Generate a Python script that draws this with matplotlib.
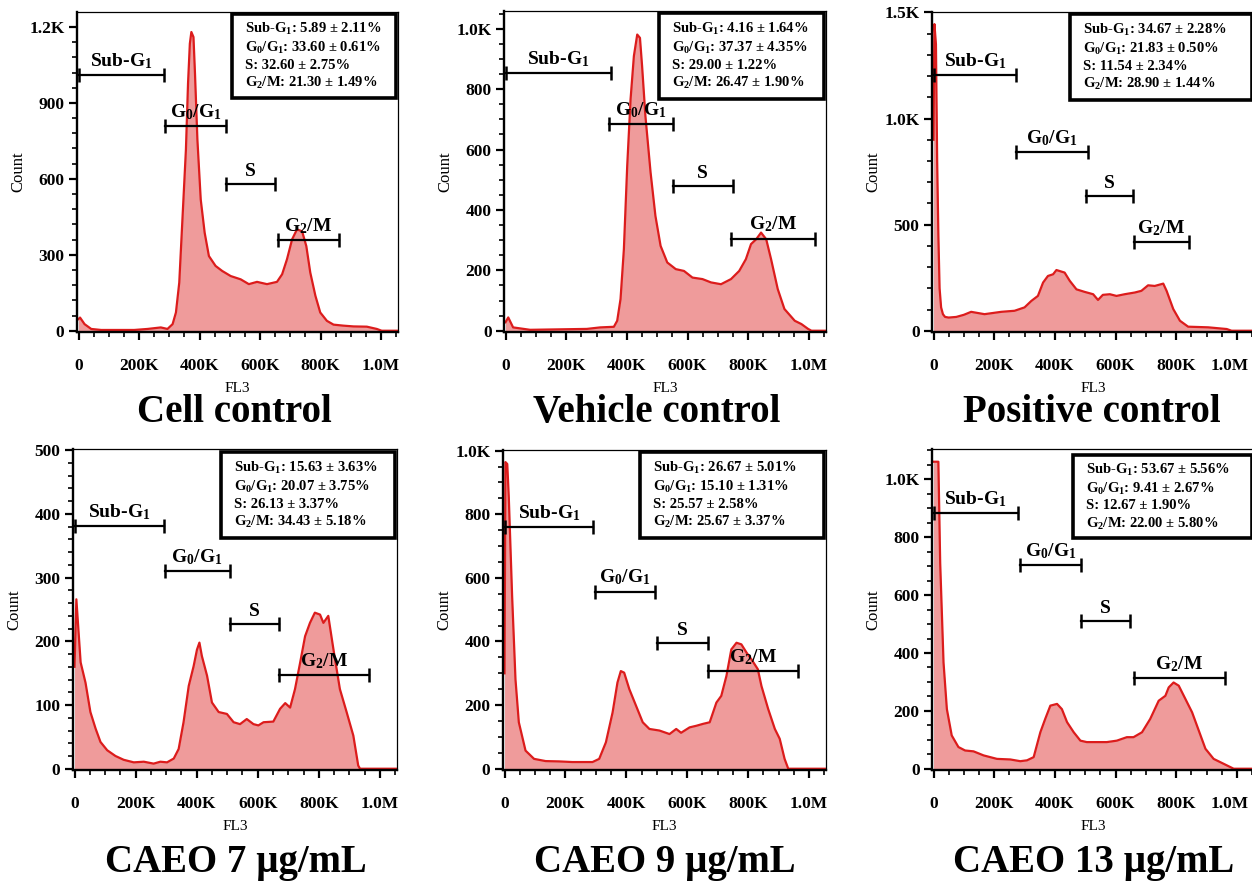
import matplotlib
matplotlib.use("Agg")
import matplotlib.pyplot as plt
from matplotlib.patches import Rectangle
from matplotlib.ticker import MultipleLocator, FuncFormatter
from matplotlib.transforms import ScaledTranslation

plt.rcParams['font.family'] = ['Liberation Serif', 'DejaVu Serif']
plt.rcParams['font.weight'] = 'bold'
plt.rcParams['mathtext.default'] = 'regular'

# ---- data (FL3 in thousands, counts) ----
titles = ['Cell control', 'Vehicle control', 'Positive control',
          'CAEO 7 µg/mL', 'CAEO 9 µg/mL', 'CAEO 13 µg/mL']

fl3_cell = [0, 5, 20, 42, 75, 184, 228, 272, 294, 311, 322, 333, 344, 355, 362, 368, 373, 380, 385, 393,
            404, 417, 431, 453, 475, 503, 536, 563, 590, 623, 656, 673, 689, 706, 722, 739, 753, 766, 783, 799,
            821, 843, 876, 909, 953, 986, 1002, 1060]
cnt_cell = [46, 52, 26, 7, 3, 3, 7, 13, 7, 26, 72, 190, 452, 715, 977, 1134, 1180, 1160, 1016, 754,
            518, 387, 295, 256, 236, 216, 203, 184, 193, 184, 193, 223, 282, 361, 400, 393, 334, 230, 138, 72,
            39, 24, 20, 17, 16, 7, 0, 0]

fl3_veh = [0, 9, 25, 81, 268, 312, 357, 368, 379, 390, 401, 412, 423, 434, 443, 450, 461, 478, 494, 511,
           533, 561, 588, 616, 649, 677, 710, 743, 770, 792, 809, 826, 842, 859, 875, 897, 919, 953, 975, 997,
           1008, 1060]
cnt_veh = [28, 44, 11, 3, 6, 11, 13, 33, 105, 270, 546, 766, 910, 981, 970, 877, 711, 524, 380, 281,
           226, 204, 198, 176, 171, 160, 154, 171, 198, 237, 287, 303, 325, 303, 237, 138, 72, 33, 22, 6,
           0, 0]

fl3_pos = [0, 3, 8, 12, 16, 20, 25, 31, 38, 50, 75, 100, 124, 168, 223, 267, 300, 322, 344, 361,
           377, 394, 405, 432, 449, 471, 498, 526, 542, 558, 581, 603, 630, 663, 685, 707, 729, 757, 768, 790,
           812, 839, 905, 966, 982, 1060]
cnt_pos = [900, 1445, 1350, 800, 450, 200, 110, 78, 65, 62, 65, 75, 89, 78, 89, 94, 110, 140, 164, 227,
           258, 266, 286, 274, 235, 195, 183, 172, 145, 169, 172, 164, 172, 180, 188, 214, 211, 222, 188, 102,
           47, 19, 16, 8, 0, 0]

fl3_c7 = [0, 6, 20, 36, 52, 69, 85, 107, 134, 161, 194, 227, 259, 281, 303, 325, 341, 357, 374, 390,
          401, 409, 417, 434, 450, 472, 499, 521, 542, 564, 586, 602, 619, 651, 673, 690, 706, 722, 739, 755,
          771, 787, 804, 815, 831, 848, 869, 891, 913, 929, 935, 1060]
cnt_c7 = [160, 266, 167, 135, 89, 63, 42, 29, 20, 14, 10, 11, 8, 11, 10, 16, 31, 73, 130, 161,
          187, 198, 177, 146, 104, 89, 86, 73, 70, 78, 70, 68, 73, 74, 94, 103, 96, 125, 167, 208,
          229, 245, 242, 229, 240, 187, 125, 89, 52, 5, 0, 0]

fl3_c9 = [0, 3, 9, 14, 25, 36, 47, 69, 97, 135, 179, 223, 267, 289, 311, 333, 355, 371, 382, 393,
          410, 432, 454, 476, 509, 542, 564, 580, 608, 630, 652, 674, 696, 712, 729, 745, 762, 778, 795, 811,
          832, 844, 866, 888, 904, 920, 932, 1060]
cnt_c9 = [300, 964, 958, 854, 542, 281, 146, 57, 31, 24, 23, 21, 21, 21, 31, 83, 177, 271, 307, 302,
          250, 198, 146, 125, 120, 109, 125, 113, 130, 135, 141, 146, 208, 229, 292, 375, 396, 391, 365, 344,
          313, 260, 188, 125, 94, 31, 0, 0]

fl3_c13 = [0, 16, 22, 33, 44, 60, 82, 104, 132, 165, 209, 253, 286, 308, 330, 352, 368, 385, 407, 423,
           440, 462, 484, 505, 538, 571, 604, 637, 659, 687, 714, 742, 764, 775, 791, 808, 830, 852, 874, 896,
           923, 956, 989, 1060]
cnt_c13 = [1061, 1061, 711, 367, 206, 115, 75, 63, 60, 46, 34, 32, 26, 29, 40, 126, 172, 218, 224, 206,
           161, 126, 97, 92, 92, 92, 97, 109, 109, 126, 172, 235, 252, 281, 298, 287, 241, 195, 132, 69,
           34, 17, 0, 0]

fl3_all = [fl3_cell, fl3_veh, fl3_pos, fl3_c7, fl3_c9, fl3_c13]
cnt_all = [cnt_cell, cnt_veh, cnt_pos, cnt_c7, cnt_c9, cnt_c13]

# gates: (start K, end K, count level) for Sub-G1, G0/G1, S, G2/M
gate_names = ['Sub-G$_1$', 'G$_0$/G$_1$', 'S', 'G$_2$/M']
gates = [
    [(0, 282, 1010), (287, 486, 807), (486, 649, 580), (660, 860, 358)],
    [(0, 349, 852), (342, 552, 684), (552, 748, 480), (743, 1019, 305)],
    [(0, 273, 1203), (271, 510, 841), (504, 656, 633), (659, 843, 417)],
    [(0, 294, 381), (295, 508, 310), (510, 671, 227), (668, 965, 147)],
    [(0, 291, 759), (297, 495, 557), (501, 669, 396), (670, 963, 307)],
    [(0, 278, 883), (286, 486, 705), (486, 648, 510), (659, 959, 312)],
]

phase_means = [[5.89, 33.60, 32.60, 21.30], [4.16, 37.37, 29.00, 26.47], [34.67, 21.83, 11.54, 28.90],
               [15.63, 20.07, 26.13, 34.43], [26.67, 15.10, 25.57, 25.67], [53.67, 9.41, 12.67, 22.00]]
phase_sds = [[2.11, 0.61, 2.75, 1.49], [1.64, 4.35, 1.22, 1.90], [2.28, 0.50, 2.34, 1.44],
             [3.63, 3.75, 3.37, 5.18], [5.01, 1.31, 2.58, 3.37], [5.56, 2.67, 1.90, 5.80]]

ymax = [1259, 1059, 1502, 502, 1002, 1105]
ymajor = [300, 200, 500, 100, 200, 200]
yminor = [60, 50, 100, 20, 50, 50]
xticks = [0, 200e3, 400e3, 600e3, 800e3, 1e6]

# ---- layout (pixels: left, top, right, bottom) ----
W, H = 1252, 882
rects = [(77, 12, 398, 332), (504, 11, 826, 332), (932, 12, 1254, 332),
         (73, 449, 397, 770), (503, 450, 826, 770), (932, 449, 1254, 770)]
boxes = [(0.483, 0.731, 0.995), (0.481, 0.726, 0.995), (0.429, 0.725, 0.995),
         (0.457, 0.723, 0.99), (0.424, 0.725, 0.995), (0.438, 0.723, 0.98)]
title_x = [0.489, 0.475, 0.497, 0.503, 0.50, 0.503]

LINE = '#dc1c1c'
FILL = '#ef9b9b'


def fmt_x(v, pos):
    if abs(v) < 1:
        return '0'
    if v >= 1e6:
        return '%.1fM' % (v / 1e6)
    return '%dK' % round(v / 1e3)


def fmt_y(v, pos):
    if v >= 1000:
        return '%.1fK' % (v / 1000)
    return '%d' % round(v)


fig = plt.figure(figsize=(W / 100, H / 100), dpi=100)

for i in range(6):
    l, t, r, b = rects[i]
    axw, axh = r - l, b - t
    ax = fig.add_axes([l / W, 1 - b / H, axw / W, axh / H])

    x = [v * 1e3 for v in fl3_all[i]]
    y = cnt_all[i]
    ax.fill_between(x, y, 0, color=FILL, lw=0)
    ax.plot(x, y, color=LINE, lw=1.6)

    ax.set_xlim(-5e3, 1.056e6)
    ax.set_ylim(-0.004 * ymax[i], ymax[i])

    # gate bars
    for name, (g0, g1, gy) in zip(gate_names, gates[i]):
        ax.plot([g0 * 1e3, g1 * 1e3], [gy, gy], color='black', lw=1.6,
                marker='|', ms=10, mew=1.8, clip_on=False)
        ax.annotate(name, ((g0 + g1) / 2 * 1e3, gy), xytext=(0, 3), textcoords='offset points',
                    ha='center', va='bottom', fontsize=14)

    # info box
    bx0, by0, by1 = boxes[i]
    ax.add_patch(Rectangle((bx0, by0), 0.995 - bx0, by1 - by0, transform=ax.transAxes,
                           fill=False, ec='black', lw=2.6, zorder=5))
    lines = []
    for name, m, s in zip(gate_names, phase_means[i], phase_sds[i]):
        lines.append('%s: %.2f ± %.2f%%' % (name, m, s))
    ax.text(bx0 + 13 / axw, (by0 + by1) / 2, '\n'.join(lines), transform=ax.transAxes,
            ha='left', va='center', fontsize=10.5, linespacing=1.25, zorder=6)

    # axes styling
    for side in ['left', 'bottom']:
        ax.spines[side].set_linewidth(1.7)
    for side in ['top', 'right']:
        ax.spines[side].set_linewidth(0.9)
    ax.set_xticks(xticks)
    ax.xaxis.set_minor_locator(MultipleLocator(50e3))
    ax.yaxis.set_major_locator(MultipleLocator(ymajor[i]))
    ax.yaxis.set_minor_locator(MultipleLocator(yminor[i]))
    ax.xaxis.set_major_formatter(FuncFormatter(fmt_x))
    ax.yaxis.set_major_formatter(FuncFormatter(fmt_y))
    ax.tick_params(which='major', direction='out', length=6, width=1.6, labelsize=12.5)
    ax.tick_params(which='minor', direction='out', length=3.5, width=1.2)
    ax.tick_params(axis='x', which='major', pad=13)
    ax.tick_params(axis='y', which='major', pad=3)

    # right column: the last x label sits against the figure edge, nudge it in
    if i % 3 == 2:
        last = ax.xaxis.get_major_ticks()[-1].label1
        last.set_transform(last.get_transform() + ScaledTranslation(-7 / 100, 0, fig.dpi_scale_trans))

    ax.set_xlabel('FL3', fontsize=11)
    ax.xaxis.label.set_va('center')
    ax.xaxis.set_label_coords(0.5, -57 / axh)
    ax.set_ylabel('Count', fontsize=12)
    ax.yaxis.label.set_va('center')
    ax.yaxis.set_label_coords(-59 / axw, 0.5)

    below = 90 if i < 3 else 102
    ax.text(title_x[i], -below / axh, titles[i], transform=ax.transAxes,
            ha='center', va='baseline', fontsize=28)

fig.savefig('out.png', dpi=100)
